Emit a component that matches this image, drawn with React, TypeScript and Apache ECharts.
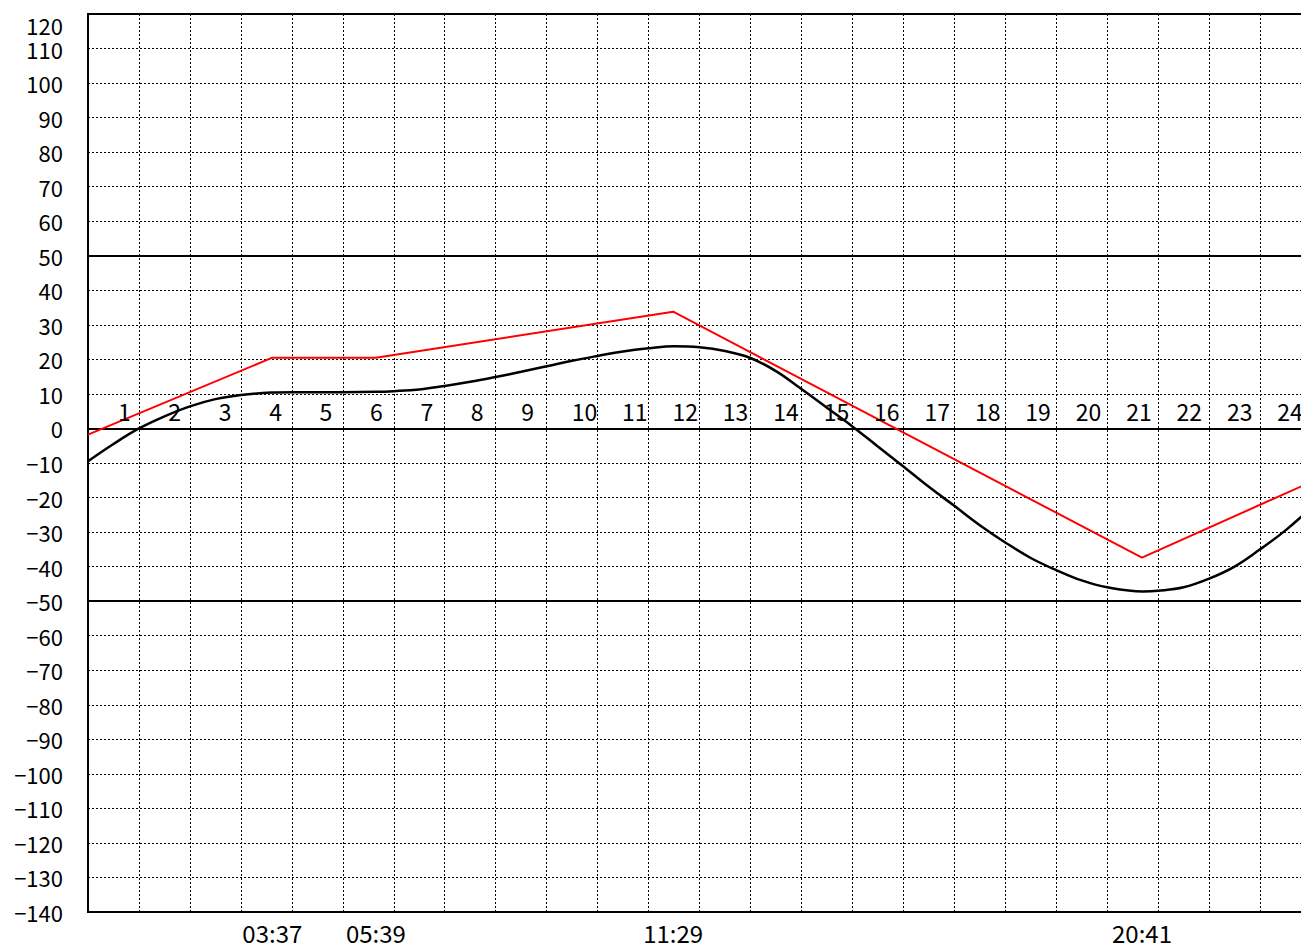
import React, { useEffect, useRef } from "react";
import * as echarts from "echarts";

// Hour labels printed along the zero line
const hourLabels = ["1","2","3","4","5","6","7","8","9","10","11","12","13","14","15","16","17","18","19","20","21","22","23","24"];
// Tide event times shown under the x axis
const tideTimes = ["03:37", "05:39", "11:29", "20:41"];
// Smooth (black) tide curve: hours and values
const curveHours = [0, 0.5, 1, 1.5, 2, 2.5, 3, 3.6, 4, 4.5, 5, 5.65, 6, 6.5, 7, 7.5, 8, 8.5, 9, 9.5, 10, 10.5, 11, 11.5, 12, 12.5, 13, 13.5, 14, 14.5, 15, 15.5, 16, 16.5, 17, 17.5, 18, 18.5, 19, 19.5, 20, 20.7, 21, 21.5, 22, 22.5, 23, 23.5, 24];
const curveValues = [-9.5, -4.5, 0, 3.5, 6.4, 8.5, 9.7, 10.4, 10.5, 10.5, 10.5, 10.6, 10.8, 11.3, 12.3, 13.5, 14.9, 16.4, 18.0, 19.6, 21.0, 22.3, 23.2, 23.8, 23.5, 22.4, 20.4, 16.6, 11.4, 6.0, 0.6, -5.2, -11.0, -16.9, -22.4, -28, -33.0, -37.5, -41.0, -44, -46.0, -47.2, -47.0, -46, -43.5, -40, -35, -29.5, -23];
// Straight (red) line: hours and values
const lineHours = [0, 3.617, 5.65, 11.483, 20.683, 24];
const lineValues = [-1.8, 20.5, 20.5, 33.8, -37.4, -15.5];
// Solid reference levels
const refLevels = [50, 0, -50];

const toHours = (t: string) => {
  const [h, m] = t.split(":").map(Number);
  return h + m / 60;
};
const tideHours = tideTimes.map(toHours);

const FONT = '"Noto Sans CJK JP", "Noto Sans", sans-serif';

export default function App() {
  const ref = useRef<HTMLDivElement>(null);
  useEffect(() => {
    if (!ref.current) return;
    const chart = echarts.init(ref.current, null, { renderer: "svg" });
    chart.setOption({
      animation: false,
      backgroundColor: "#fff",
      grid: {
        left: 88,
        top: 14,
        right: 9,
        bottom: 38,
        show: true,
        borderColor: "#000",
        borderWidth: 2,
        backgroundColor: "transparent",
      },
      xAxis: {
        type: "value",
        min: 0,
        max: 24,
        interval: 1,
        axisLine: { show: true, onZero: false, lineStyle: { color: "#000", width: 2 } },
        axisTick: { show: false },
        splitLine: { show: true, lineStyle: { color: "#000", width: 1, type: [2, 2] } },
        axisLabel: {
          show: true,
          customValues: tideHours,
          margin: 8,
          color: "#000",
          fontSize: 24,
          lineHeight: 24,
          fontFamily: FONT,
          formatter: (v: number) => {
            const i = tideHours.findIndex((h) => Math.abs(h - v) < 1e-6);
            return i >= 0 ? tideTimes[i] : "";
          },
        },
      },
      yAxis: {
        type: "value",
        min: -140,
        max: 120,
        interval: 10,
        axisLine: { show: true, lineStyle: { color: "#000", width: 2 } },
        axisTick: { show: false },
        splitLine: { show: true, lineStyle: { color: "#000", width: 1, type: [2, 2] } },
        axisLabel: {
          color: "#000",
          fontSize: 22,
          fontFamily: FONT,
          margin: 25,
          verticalAlignMaxLabel: "top",
          formatter: (v: number) => String(v).replace("-", "\u2212"),
        },
      },
      series: [
        {
          type: "line",
          data: [],
          silent: true,
          markLine: {
            silent: true,
            symbol: "none",
            label: { show: false },
            lineStyle: { color: "#000", width: 2, type: "solid" },
            data: refLevels.map((v) => ({ yAxis: v })),
          },
        },
        {
          type: "line",
          name: "curve",
          data: curveHours.map((h, i) => [h, curveValues[i]]),
          smooth: 0.4,
          symbol: "none",
          lineStyle: { color: "#000", width: 2.5 },
          z: 4,
        },
        {
          type: "line",
          name: "line",
          data: lineHours.map((h, i) => [h, lineValues[i]]),
          symbol: "none",
          lineStyle: { color: "#f00", width: 2 },
          z: 5,
        },
        {
          type: "scatter",
          silent: true,
          symbolSize: 1,
          itemStyle: { color: "rgba(0,0,0,0)", opacity: 1 },
          z: 6,
          data: hourLabels.map((l, i) => ({
            value: [Number(l), 0],
            name: l,
            label: { offset: [-21 - 0.55 * i, -17] },
          })),
          label: {
            show: true,
            position: "top",
            distance: 0,
            align: "left",
            verticalAlign: "middle",
            formatter: (p: any) => p.name,
            color: "#000",
            textBorderWidth: 0,
            fontSize: 23,
            fontFamily: FONT,
          },
        },
      ],
    });
    return () => chart.dispose();
  }, []);
  return (
    <div style={{ position: "absolute", left: 0, top: 0, width: 1301, height: 950, overflow: "hidden" }}>
      <div ref={ref} style={{ width: 1320, height: 950 }} />
    </div>
  );
}
